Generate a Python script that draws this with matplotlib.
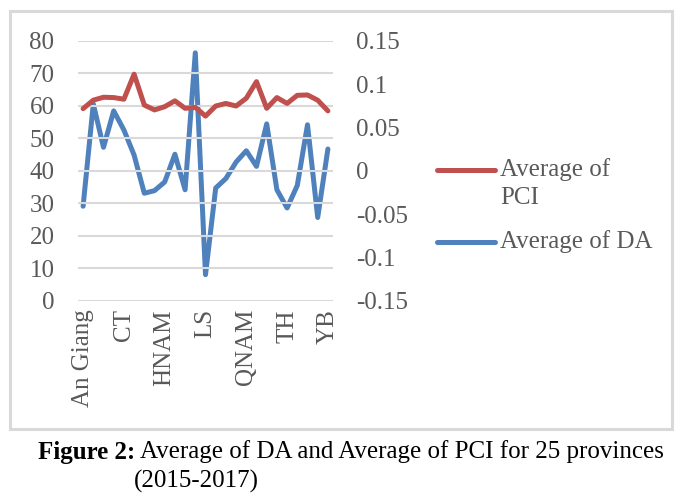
import matplotlib
matplotlib.use("Agg")
import matplotlib.pyplot as plt
from matplotlib.patches import Rectangle
from matplotlib.lines import Line2D

# ---- data ----
n_provinces = 25
tick_labels = ["An Giang", "CT", "HNAM", "LS", "QNAM", "TH", "YB"]
tick_step = 4
pci = [59.1, 61.7, 62.6, 62.5, 62.0, 69.7, 60.2, 58.7, 59.7, 61.5, 59.2, 59.5, 56.8,
       59.9, 60.7, 59.9, 62.3, 67.4, 59.2, 62.5, 60.7, 63.2, 63.3, 61.7, 58.4]
da = [-0.041, 0.077, 0.027, 0.069, 0.047, 0.018, -0.026, -0.023, -0.013, 0.019, -0.022,
      0.136, -0.120, -0.020, -0.009, 0.010, 0.023, 0.005, 0.054, -0.022, -0.043, -0.017,
      0.053, -0.054, 0.025]
left_ticks = [0, 10, 20, 30, 40, 50, 60, 70, 80]
right_ticks = [-0.15, -0.1, -0.05, 0, 0.05, 0.1, 0.15]
right_tick_labels = ["-0.15", "-0.1", "-0.05", "0", "0.05", "0.1", "0.15"]
series_names = ["Average of\nPCI", "Average of DA"]

plt.rcParams['font.family'] = ['Liberation Serif', 'DejaVu Serif']
txt_color = "#595959"
red = "#C0504D"
blue = "#4F81BD"
grid_c = "#D9D9D9"
W, H = 684, 500

fig = plt.figure(figsize=(6.84, 5.0), dpi=100)
fig.patches.append(Rectangle((10/W, 1-429/H), 662/W, 418/H, transform=fig.transFigure,
                             fill=False, edgecolor=grid_c, linewidth=2.2))

ax = fig.add_axes([78/W, 1-300.7/H, (333-78)/W, (300.7-40.7)/H])
ax2 = ax.twinx()
x = list(range(n_provinces))

ax.set_xlim(-0.5, n_provinces - 0.5)
ax.set_ylim(0, 80)
ax.set_yticks(left_ticks)
ax.set_yticklabels([str(t) for t in left_ticks])
ax.grid(axis='y', color=grid_c, linewidth=1.5)
ax.set_axisbelow(True)
ax2.set_ylim(-0.15, 0.15)
ax2.set_yticks(right_ticks)
ax2.set_yticklabels(right_tick_labels)

lw = 3.6
l1, = ax.plot(x, pci, color=red, linewidth=lw, solid_capstyle='round', solid_joinstyle='round', zorder=3)
l2, = ax2.plot(x, da, color=blue, linewidth=lw, solid_capstyle='round', solid_joinstyle='round', zorder=3)
ax.set_zorder(ax2.get_zorder() + 1)
ax.patch.set_visible(False)

ax.set_xticks(x[::tick_step])
ax.set_xticklabels(tick_labels, rotation=90)

for a in (ax, ax2):
    for s in a.spines.values():
        s.set_visible(False)
    a.tick_params(length=0, colors=txt_color, labelsize=18)
ax.tick_params(axis='y', pad=17)
ax2.tick_params(axis='y', pad=16.5)
ax.tick_params(axis='x', pad=6)

# legend (handle aligned with first text line, as in the reference)
for ypix, col, name in [(170, red, series_names[0]), (242, blue, series_names[1])]:
    fig.add_artist(Line2D([437/W, 495/W], [1-ypix/H, 1-ypix/H], transform=fig.transFigure,
                          color=col, linewidth=lw, solid_capstyle='round'))
    fig.text(500/W, 1-(ypix-12)/H, name, fontsize=18, color=txt_color, va='top',
             linespacing=1.35)

t1 = fig.text(38/W, 1-452/H, "Figure 2:", fontsize=18, fontweight='bold', va='center', color='black')
fig.canvas.draw()
bb = t1.get_window_extent()
fig.text((bb.x1 + 5)/W, 1-452/H, "Average of DA and Average of PCI for 25 provinces",
         fontsize=18, va='center', color='black')
fig.text(134/W, 1-481/H, "(2015-2017)", fontsize=18, va='center', color='black')

fig.savefig("out.png", dpi=100)
